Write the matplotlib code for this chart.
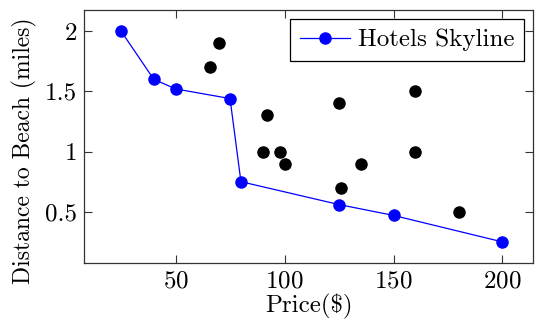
import matplotlib
matplotlib.use('Agg')
import matplotlib.pyplot as plt

plt.rcParams['font.family'] = ['cmr10', 'DejaVu Serif']
plt.rcParams['axes.formatter.use_mathtext'] = True
plt.rcParams['mathtext.fontset'] = 'cm'

# skyline hotels
sky_price = [25, 40, 50, 75, 80, 125, 150, 200]
sky_dist = [2.0, 1.6, 1.52, 1.44, 0.75, 0.56, 0.47, 0.25]

# other hotels
other_price = [66, 70, 92, 90, 98, 100, 125, 126, 135, 160, 160, 180]
other_dist = [1.7, 1.9, 1.3, 1.0, 1.0, 0.9, 1.4, 0.7, 0.9, 1.5, 1.0, 0.5]

fig = plt.figure(figsize=(5.35, 3.25), dpi=100)
ax = fig.add_axes([84 / 535, 1 - 263 / 325, 449 / 535, 253 / 325])

ax.plot(sky_price, sky_dist, '-o', color='blue', lw=0.9, markersize=8,
        label='Hotels Skyline', zorder=3)
ax.plot(other_price, other_dist, 'o', color='black', markersize=8, zorder=3)

ax.set_xlim(8, 214)
ax.set_ylim(0.075, 2.175)
ax.set_xticks([50, 100, 150, 200])
ax.set_yticks([0.5, 1, 1.5, 2])
ax.set_yticklabels(['0.5', '1', '1.5', '2'])
ax.tick_params(direction='in', length=6, width=0.8, top=True, right=True,
               labelsize=18, color='#333333', pad=5)
for s in ax.spines.values():
    s.set_linewidth(0.9)
    s.set_color('#333333')

ax.set_xlabel('Price(\\$)', fontsize=18, labelpad=1)
ax.set_ylabel('Distance to Beach (miles)', fontsize=17)
ax.yaxis.set_label_coords(-0.105, 0.443)

leg = ax.legend(loc='upper right', fontsize=18, fancybox=False, framealpha=1,
                edgecolor='black', borderaxespad=0.35, handlelength=2.0,
                borderpad=0.4, handletextpad=0.3)
leg.get_frame().set_linewidth(0.9)

fig.savefig('out.png', dpi=100)
